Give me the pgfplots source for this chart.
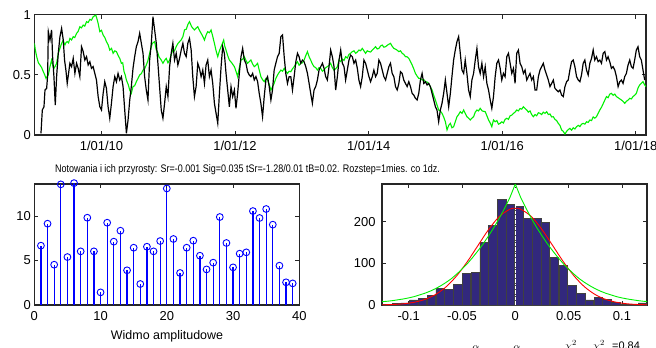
\documentclass[border=0pt]{standalone}
\usepackage{pgfplots}
\pgfplotsset{compat=1.18}
\usepackage{fontspec}
\setmainfont{Liberation Sans}
\definecolor{barc}{RGB}{50,40,125}
\definecolor{lgreen}{RGB}{0,240,0}
\pgfplotsset{mstyle/.style={scale only axis, anchor=south west,
  axis line style={line width=1.2bp, black!85},
  tick style={black!85, line width=0.8bp}, major tick length=4bp, tick align=inside,
  ticklabel style={font=\fontsize{13}{13}\selectfont},
  xticklabel style={yshift=-2.5bp},
  /pgf/number format/assume math mode=true}}
\begin{document}
\begin{tikzpicture}[x=1bp,y=1bp]
\useasboundingbox (0,0) rectangle (656,347);
% ---------------- top axis ----------------
\begin{axis}[mstyle, at={(34.3bp,212bp)}, width=611.7bp, height=120.3bp,
  xmin=2008.994, xmax=2018.154, ymin=0, ymax=1,
  xtick={2010,2012,2014,2016,2018}, xticklabels={1/01/10,1/01/12,1/01/14,1/01/16,1/01/18},
  ytick={0,0.5,1}, yticklabels={0,0.5,1}]
\addplot[lgreen, line width=1.1bp] coordinates {
(2008.995,0.762)(2009.012,0.700)(2009.030,0.651)(2009.055,0.600)(2009.079,0.582)(2009.104,0.560)(2009.129,0.526)(2009.150,0.500)(2009.169,0.471)(2009.204,0.499)
(2009.229,0.568)(2009.253,0.623)(2009.270,0.580)(2009.288,0.554)(2009.310,0.575)(2009.328,0.596)(2009.353,0.679)(2009.378,0.720)
(2009.403,0.762)(2009.428,0.789)(2009.440,0.760)(2009.452,0.748)(2009.470,0.770)(2009.487,0.776)(2009.507,0.765)(2009.527,0.803)(2009.552,0.790)(2009.577,0.817)
(2009.600,0.810)(2009.627,0.845)(2009.650,0.860)(2009.676,0.900)(2009.700,0.890)(2009.726,0.914)(2009.750,0.905)(2009.776,0.942)(2009.800,0.935)(2009.826,0.961)(2009.850,0.955)(2009.875,0.983)
(2009.915,0.997)(2009.935,0.960)(2009.950,0.928)(2009.975,0.859)(2010.000,0.870)(2010.025,0.831)(2010.050,0.810)(2010.074,0.776)(2010.100,0.750)(2010.124,0.706)
(2010.150,0.720)(2010.174,0.679)(2010.200,0.700)(2010.224,0.693)(2010.250,0.660)(2010.273,0.637)(2010.298,0.596)(2010.318,0.600)(2010.338,0.526)(2010.355,0.500)(2010.373,0.457)
(2010.400,0.420)(2010.423,0.374)(2010.447,0.346)(2010.472,0.402)(2010.497,0.410)(2010.522,0.443)(2010.547,0.470)(2010.572,0.499)(2010.597,0.510)(2010.622,0.540)
(2010.646,0.550)(2010.671,0.582)(2010.696,0.620)(2010.721,0.679)(2010.740,0.720)(2010.761,0.762)(2010.796,0.776)(2010.821,0.706)(2010.840,0.690)(2010.860,0.651)
(2010.895,0.623)(2010.920,0.596)(2010.945,0.620)(2010.970,0.637)(2010.995,0.600)(2011.020,0.623)(2011.045,0.670)(2011.069,0.706)(2011.094,0.700)(2011.119,0.734)
(2011.144,0.760)(2011.169,0.776)(2011.194,0.790)(2011.219,0.817)(2011.243,0.873)(2011.270,0.880)(2011.295,0.920)(2011.318,0.942)(2011.350,0.900)(2011.392,0.873)(2011.420,0.890)(2011.442,0.900)
(2011.467,0.870)(2011.492,0.845)(2011.517,0.820)(2011.542,0.789)(2011.566,0.830)(2011.591,0.859)(2011.616,0.850)(2011.641,0.873)(2011.666,0.820)(2011.691,0.762)(2011.716,0.700)(2011.741,0.651)
(2011.766,0.700)(2011.791,0.734)(2011.830,0.789)(2011.845,0.740)(2011.865,0.706)(2011.890,0.660)(2011.915,0.623)(2011.950,0.600)(2011.990,0.568)(2012.014,0.530)(2012.039,0.485)
(2012.064,0.560)(2012.089,0.623)(2012.114,0.630)(2012.139,0.651)(2012.163,0.620)(2012.188,0.596)(2012.213,0.610)(2012.238,0.623)(2012.263,0.590)(2012.288,0.568)(2012.313,0.580)(2012.338,0.596)
(2012.362,0.540)(2012.387,0.485)(2012.412,0.460)(2012.437,0.443)(2012.462,0.470)(2012.487,0.457)(2012.512,0.420)(2012.537,0.374)(2012.561,0.400)(2012.586,0.429)(2012.611,0.470)(2012.636,0.499)
(2012.661,0.520)(2012.686,0.540)(2012.711,0.530)(2012.736,0.554)(2012.760,0.530)(2012.785,0.512)(2012.810,0.530)(2012.835,0.526)(2012.860,0.550)(2012.885,0.568)(2012.910,0.590)(2012.935,0.609)
(2012.959,0.580)(2012.984,0.596)(2013.009,0.600)(2013.034,0.623)(2013.059,0.660)(2013.084,0.693)(2013.109,0.650)(2013.133,0.623)(2013.158,0.590)(2013.183,0.568)(2013.208,0.560)(2013.233,0.540)
(2013.258,0.560)(2013.283,0.554)(2013.308,0.530)(2013.333,0.540)(2013.357,0.560)(2013.382,0.568)(2013.407,0.580)(2013.432,0.596)(2013.457,0.560)(2013.482,0.540)(2013.507,0.550)(2013.532,0.568)
(2013.557,0.623)(2013.582,0.610)(2013.607,0.630)(2013.632,0.620)(2013.656,0.651)(2013.681,0.640)(2013.706,0.670)(2013.731,0.680)(2013.756,0.693)(2013.781,0.700)(2013.806,0.679)(2013.830,0.690)(2013.855,0.706)(2013.880,0.700)(2013.905,0.720)
(2013.930,0.700)(2013.955,0.679)(2013.980,0.700)(2014.005,0.693)(2014.030,0.690)(2014.055,0.706)(2014.080,0.720)(2014.104,0.734)(2014.129,0.715)(2014.154,0.720)(2014.179,0.740)(2014.204,0.748)
(2014.229,0.730)(2014.254,0.734)(2014.290,0.750)(2014.328,0.762)(2014.350,0.740)(2014.378,0.720)(2014.415,0.710)(2014.453,0.693)(2014.477,0.700)(2014.502,0.679)(2014.527,0.670)(2014.552,0.651)
(2014.577,0.650)(2014.602,0.637)(2014.627,0.610)(2014.652,0.582)(2014.676,0.550)(2014.701,0.512)(2014.726,0.490)(2014.751,0.471)(2014.776,0.470)(2014.801,0.457)(2014.826,0.460)(2014.851,0.443)
(2014.875,0.440)(2014.900,0.429)(2014.925,0.400)(2014.950,0.374)(2014.975,0.330)(2015.000,0.291)(2015.024,0.250)(2015.049,0.208)(2015.074,0.200)(2015.099,0.180)(2015.124,0.150)(2015.149,0.111)
(2015.174,0.042)(2015.199,0.080)(2015.224,0.097)(2015.248,0.060)(2015.273,0.069)(2015.298,0.110)(2015.323,0.152)(2015.348,0.170)(2015.373,0.194)(2015.398,0.180)(2015.423,0.208)
(2015.447,0.180)(2015.472,0.152)(2015.497,0.140)(2015.522,0.125)(2015.547,0.140)(2015.572,0.152)(2015.597,0.190)(2015.622,0.208)(2015.646,0.200)(2015.671,0.222)(2015.700,0.200)(2015.746,0.194)
(2015.771,0.160)(2015.796,0.125)(2015.821,0.100)(2015.845,0.069)(2015.870,0.125)(2015.895,0.110)(2015.920,0.120)(2015.945,0.090)(2015.970,0.097)(2015.994,0.110)(2016.019,0.100)(2016.044,0.130)(2016.069,0.139)
(2016.094,0.130)(2016.119,0.160)(2016.144,0.165)(2016.169,0.180)(2016.193,0.190)(2016.218,0.208)(2016.243,0.200)(2016.268,0.220)(2016.293,0.215)(2016.318,0.235)(2016.343,0.220)(2016.368,0.208)
(2016.392,0.190)(2016.417,0.200)(2016.442,0.170)(2016.467,0.152)(2016.492,0.170)(2016.517,0.160)(2016.542,0.185)(2016.567,0.180)(2016.591,0.170)(2016.616,0.190)(2016.641,0.180)(2016.666,0.194)
(2016.691,0.170)(2016.716,0.175)(2016.741,0.150)(2016.766,0.152)(2016.790,0.130)(2016.815,0.120)(2016.840,0.097)(2016.865,0.080)(2016.890,0.042)(2016.915,0.030)(2016.940,0.008)
(2016.965,0.030)(2016.989,0.045)(2017.014,0.055)(2017.039,0.040)(2017.064,0.060)(2017.089,0.050)(2017.114,0.069)(2017.139,0.080)(2017.164,0.070)(2017.188,0.090)(2017.213,0.097)
(2017.238,0.090)(2017.263,0.110)(2017.288,0.105)(2017.313,0.125)(2017.338,0.120)(2017.363,0.150)(2017.387,0.140)(2017.412,0.152)(2017.437,0.180)(2017.462,0.208)(2017.487,0.230)(2017.512,0.260)
(2017.537,0.290)(2017.562,0.319)(2017.586,0.310)(2017.611,0.340)(2017.636,0.346)(2017.661,0.330)(2017.686,0.340)(2017.711,0.319)(2017.736,0.310)(2017.761,0.300)(2017.785,0.291)(2017.810,0.280)
(2017.835,0.263)(2017.860,0.280)(2017.885,0.290)(2017.910,0.305)(2017.935,0.300)(2017.960,0.320)(2017.984,0.330)(2018.009,0.346)(2018.034,0.390)(2018.059,0.416)(2018.084,0.430)
(2018.109,0.443)(2018.130,0.420)(2018.154,0.402)};
\addplot[black, line width=1.2bp] coordinates {
(2009.094,0.014)(2009.114,0.208)(2009.139,0.235)(2009.154,0.374)(2009.179,0.388)(2009.194,0.499)
(2009.204,0.859)(2009.229,0.789)(2009.253,0.873)(2009.268,0.651)(2009.288,0.485)(2009.308,0.249)
(2009.328,0.485)(2009.353,0.679)(2009.378,0.817)(2009.403,0.886)(2009.428,0.789)(2009.447,0.623)
(2009.467,0.540)(2009.487,0.429)(2009.507,0.512)(2009.527,0.596)(2009.552,0.568)(2009.577,0.637)
(2009.602,0.512)(2009.627,0.596)(2009.651,0.554)(2009.676,0.485)(2009.701,0.734)(2009.726,0.693)
(2009.751,0.623)(2009.776,0.651)(2009.801,0.582)(2009.826,0.609)(2009.850,0.554)(2009.875,0.568)
(2009.900,0.512)(2009.925,0.457)(2009.950,0.319)(2009.975,0.235)(2010.000,0.208)(2010.025,0.346)
(2010.049,0.443)(2010.074,0.388)(2010.099,0.235)(2010.124,0.139)(2010.149,0.263)(2010.174,0.402)
(2010.199,0.485)(2010.224,0.443)(2010.248,0.512)(2010.273,0.457)(2010.298,0.485)(2010.323,0.402)
(2010.348,0.208)(2010.373,0.014)(2010.398,0.125)(2010.423,0.291)(2010.447,0.402)(2010.472,0.554)
(2010.497,0.651)(2010.522,0.734)(2010.547,0.776)(2010.572,0.845)(2010.597,0.762)(2010.622,0.679)
(2010.646,0.485)(2010.671,0.374)(2010.696,0.291)(2010.721,0.623)(2010.746,0.762)(2010.771,0.983)
(2010.796,0.873)(2010.821,0.762)(2010.845,0.596)(2010.870,0.402)(2010.895,0.208)(2010.920,0.139)
(2010.945,0.263)(2010.970,0.402)(2010.995,0.319)(2011.020,0.568)(2011.044,0.679)(2011.069,0.762)
(2011.094,0.623)(2011.119,0.679)(2011.144,0.582)(2011.169,0.637)(2011.194,0.706)(2011.219,0.762)
(2011.243,0.679)(2011.268,0.651)(2011.293,0.762)(2011.318,0.803)(2011.343,0.706)(2011.367,0.485)
(2011.392,0.319)(2011.417,0.402)(2011.442,0.596)(2011.467,0.554)(2011.492,0.485)(2011.517,0.540)
(2011.542,0.429)(2011.566,0.582)(2011.591,0.623)(2011.616,0.485)(2011.641,0.540)(2011.666,0.429)
(2011.691,0.263)(2011.716,0.180)(2011.741,0.097)(2011.766,0.346)(2011.791,0.568)(2011.815,0.734)
(2011.840,0.679)(2011.865,0.512)(2011.890,0.374)(2011.915,0.235)(2011.940,0.402)(2011.965,0.319)
(2011.990,0.374)(2012.014,0.222)(2012.039,0.346)(2012.064,0.512)(2012.089,0.651)(2012.114,0.720)
(2012.139,0.623)(2012.163,0.596)(2012.188,0.526)(2012.213,0.499)(2012.238,0.485)(2012.263,0.512)
(2012.288,0.457)(2012.313,0.485)(2012.338,0.443)(2012.362,0.346)(2012.387,0.263)(2012.412,0.152)
(2012.437,0.319)(2012.462,0.457)(2012.487,0.485)(2012.512,0.402)(2012.537,0.291)(2012.561,0.374)
(2012.586,0.540)(2012.611,0.596)(2012.636,0.651)(2012.661,0.679)(2012.686,0.817)(2012.711,0.831)
(2012.736,0.651)(2012.760,0.512)(2012.785,0.429)(2012.810,0.485)(2012.835,0.485)(2012.860,0.374)
(2012.885,0.485)(2012.910,0.609)(2012.935,0.679)(2012.959,0.651)(2012.984,0.596)(2013.009,0.623)
(2013.034,0.609)(2013.059,0.568)(2013.084,0.512)(2013.109,0.429)(2013.133,0.346)(2013.158,0.263)
(2013.183,0.374)(2013.208,0.402)(2013.233,0.457)(2013.258,0.540)(2013.283,0.568)(2013.308,0.596)
(2013.333,0.554)(2013.357,0.485)(2013.382,0.457)(2013.407,0.568)(2013.432,0.706)(2013.457,0.651)
(2013.482,0.568)(2013.507,0.374)(2013.532,0.485)(2013.557,0.623)(2013.582,0.706)(2013.607,0.596)
(2013.632,0.568)(2013.656,0.457)(2013.681,0.540)(2013.706,0.623)(2013.731,0.665)(2013.756,0.651)
(2013.781,0.596)(2013.806,0.623)(2013.831,0.554)(2013.855,0.457)(2013.880,0.402)(2013.905,0.485)
(2013.930,0.623)(2013.955,0.596)(2013.980,0.540)(2014.005,0.485)(2014.030,0.443)(2014.055,0.485)
(2014.079,0.540)(2014.104,0.485)(2014.129,0.512)(2014.154,0.623)(2014.179,0.596)(2014.204,0.540)
(2014.229,0.485)(2014.254,0.457)(2014.278,0.512)(2014.303,0.568)(2014.328,0.596)(2014.353,0.512)
(2014.378,0.485)(2014.403,0.402)(2014.428,0.374)(2014.453,0.429)(2014.477,0.526)(2014.502,0.512)
(2014.527,0.457)(2014.552,0.429)(2014.577,0.402)(2014.602,0.443)(2014.627,0.402)(2014.652,0.346)
(2014.676,0.332)(2014.701,0.305)(2014.726,0.291)(2014.751,0.346)(2014.776,0.457)(2014.801,0.512)
(2014.826,0.429)(2014.851,0.443)(2014.875,0.416)(2014.900,0.429)(2014.925,0.402)(2014.950,0.346)
(2014.975,0.291)(2015.000,0.235)(2015.024,0.208)(2015.049,0.111)(2015.074,0.208)(2015.099,0.263)
(2015.124,0.346)(2015.149,0.457)(2015.174,0.346)(2015.199,0.235)(2015.224,0.346)(2015.248,0.485)
(2015.273,0.623)(2015.298,0.706)(2015.323,0.776)(2015.348,0.817)(2015.373,0.679)(2015.398,0.540)
(2015.423,0.512)(2015.447,0.623)(2015.472,0.512)(2015.497,0.374)(2015.522,0.319)(2015.547,0.457)
(2015.572,0.512)(2015.597,0.623)(2015.622,0.720)(2015.646,0.568)(2015.671,0.512)(2015.696,0.596)
(2015.721,0.485)(2015.746,0.568)(2015.771,0.429)(2015.796,0.374)(2015.821,0.291)(2015.845,0.222)
(2015.870,0.319)(2015.895,0.485)(2015.920,0.596)(2015.945,0.623)(2015.970,0.554)(2015.994,0.457)
(2016.019,0.512)(2016.044,0.485)(2016.069,0.651)(2016.094,0.679)(2016.119,0.596)(2016.144,0.512)
(2016.169,0.554)(2016.193,0.429)(2016.218,0.679)(2016.243,0.706)(2016.268,0.596)(2016.293,0.568)
(2016.318,0.512)(2016.343,0.540)(2016.368,0.457)(2016.392,0.485)(2016.417,0.512)(2016.442,0.457)
(2016.467,0.485)(2016.492,0.374)(2016.517,0.374)(2016.542,0.485)(2016.567,0.540)(2016.591,0.568)
(2016.616,0.596)(2016.641,0.540)(2016.666,0.499)(2016.691,0.457)(2016.716,0.402)(2016.741,0.429)
(2016.766,0.457)(2016.790,0.388)(2016.815,0.374)(2016.840,0.360)(2016.865,0.374)(2016.890,0.332)
(2016.915,0.319)(2016.940,0.402)(2016.965,0.443)(2016.989,0.457)(2017.014,0.540)(2017.039,0.609)
(2017.064,0.623)(2017.089,0.568)(2017.114,0.485)(2017.139,0.457)(2017.164,0.443)(2017.188,0.499)
(2017.213,0.596)(2017.238,0.623)(2017.263,0.540)(2017.288,0.499)(2017.313,0.596)(2017.338,0.637)
(2017.363,0.706)(2017.387,0.623)(2017.412,0.651)(2017.437,0.609)(2017.462,0.623)(2017.487,0.596)
(2017.512,0.679)(2017.537,0.693)(2017.562,0.623)(2017.586,0.651)(2017.611,0.609)(2017.636,0.554)
(2017.661,0.568)(2017.686,0.540)(2017.711,0.485)(2017.736,0.402)(2017.761,0.443)(2017.785,0.457)
(2017.810,0.429)(2017.835,0.485)(2017.860,0.512)(2017.885,0.582)(2017.910,0.623)(2017.935,0.568)
(2017.960,0.554)(2017.984,0.623)(2018.009,0.706)(2018.034,0.734)(2018.059,0.651)(2018.084,0.623)
(2018.109,0.540)(2018.134,0.457)};
\end{axis}
% ---------------- bottom left ----------------
\begin{axis}[mstyle, at={(34.3bp,42bp)}, width=265bp, height=121bp,
  xmin=0, xmax=40, ymin=0, ymax=13.6, clip=false,
  xtick={0,10,20,30,40}, xticklabels={0,10,20,30,40},
  ytick={0,5,10}, yticklabels={0,5,10}]
\addplot[blue, ycomb, line width=1.2bp, mark=o, mark size=3.4bp, mark options={line width=0.9bp}] coordinates {
(1,6.67)(2,9.14)(3,4.53)(4,13.56)(5,5.39)(6,13.7)(7,6.03)(8,9.81)(9,6.03)(10,1.42)
(11,9.25)(12,7.12)(13,8.35)(14,3.9)(15,6.44)(16,2.36)(17,6.55)(18,6.03)(19,7.19)(20,13.1)
(21,7.42)(22,3.6)(23,6.44)(24,7.23)(25,5.54)(26,4.0)(27,4.76)(28,9.89)(29,6.97)(30,4.23)
(31,5.77)(32,5.92)(33,10.56)(34,9.78)(35,10.79)(36,9.03)(37,4.42)(38,2.55)(39,2.43)};
\end{axis}
% ---------------- bottom right ----------------
\begin{axis}[mstyle, at={(382bp,42bp)}, width=265bp, height=121bp,
  xmin=-0.125, xmax=0.1235, ymin=0, ymax=290,
  yticklabel style={xshift=-3bp},
  xtick={-0.1,-0.05,0,0.05,0.1}, xticklabels={-0.1,-0.05,0,0.05,0.1},
  ytick={0,100,200}, yticklabels={0,100,200}]
\addplot[ybar, bar width=0.0079, fill=barc, draw=black!75, line width=0.7bp] coordinates {
(-0.1199,2)(-0.1117,3)(-0.1034,5)(-0.0952,12)(-0.0870,16)(-0.0787,22)(-0.0705,40)(-0.0622,38)
(-0.0540,50)(-0.0458,76)(-0.0375,79)(-0.0293,150)(-0.0211,190)(-0.0128,254)(-0.0046,242)
(0.0037,237)(0.0119,208)(0.0201,208)(0.0284,198)(0.0366,114)(0.0449,94)(0.0531,46)(0.0613,28)
(0.0696,12)(0.0778,18)(0.0860,14)(0.0943,6)(0.1025,2)(0.1108,2)(0.1190,5)};
\addplot[white, densely dash dot, line width=0.8bp] coordinates {(0,0)(0,290)};
\addplot[red, line width=0.9bp, smooth] coordinates {
(-0.125,0.5)(-0.115,1.2)(-0.105,2.9)(-0.095,6.5)(-0.085,13.2)(-0.075,24.9)(-0.065,43.4)(-0.055,69.9)
(-0.045,103.9)(-0.035,142.7)(-0.025,181)(-0.015,212.2)(-0.005,229.7)(0,232)(0.005,229.7)(0.015,212.2)
(0.025,181)(0.035,142.7)(0.045,103.9)(0.055,69.9)(0.065,43.4)(0.075,24.9)(0.085,13.2)(0.095,6.5)
(0.105,2.9)(0.115,1.2)(0.125,0.5)};
\addplot[lgreen, line width=0.9bp] coordinates {
(-0.125,8)(-0.12,9)(-0.115,10.5)(-0.11,12.5)(-0.105,14.5)(-0.1,17)(-0.095,20)(-0.09,24)(-0.085,28)
(-0.08,33)(-0.075,39)(-0.07,46)(-0.065,54)(-0.06,63)(-0.055,74)(-0.05,86)(-0.045,99)(-0.04,114)
(-0.035,130)(-0.03,147)(-0.025,166)(-0.02,186)(-0.015,208)(-0.01,232)(-0.005,258)(0,290)
(0.005,258)(0.01,232)(0.015,208)(0.02,186)(0.025,166)(0.03,147)(0.035,130)(0.04,114)(0.045,99)
(0.05,86)(0.055,74)(0.06,63)(0.065,54)(0.07,46)(0.075,39)(0.08,33)(0.085,28)(0.09,24)(0.095,20)
(0.1,17)(0.105,14.5)(0.11,12.5)(0.115,10.5)(0.12,9)(0.125,8)};
\end{axis}
% ---------------- texts ----------------
\node[inner sep=0pt] at (247.5,177) {\scalebox{0.82}[1]{\fontsize{11}{12}\selectfont Notowania i ich przyrosty: Sr=-0.001 Sig=0.035 tSr=-1.28/0.01 tB=0.02. Rozstep=1mies. co 1dz.}};
\node[font=\fontsize{12.5}{13}\selectfont] at (167,11) {Widmo amplitudowe};
\node[font=\fontsize{11}{12}\selectfont, anchor=base] at (476,-3) {$\alpha$};
\node[font=\fontsize{11}{12}\selectfont, anchor=base] at (517,-3) {$\alpha$};
\node[font=\fontsize{11}{12}\selectfont, anchor=base west, inner sep=0pt] at (565,-2) {$\chi^2$};
\node[font=\fontsize{11}{12}\selectfont, anchor=base west, inner sep=0pt] at (593,-2) {$\chi^2$};
\node[font=\fontsize{11}{12}\selectfont, anchor=base west, inner sep=0pt] at (612,-2) {=0.84};
\end{tikzpicture}
\end{document}
